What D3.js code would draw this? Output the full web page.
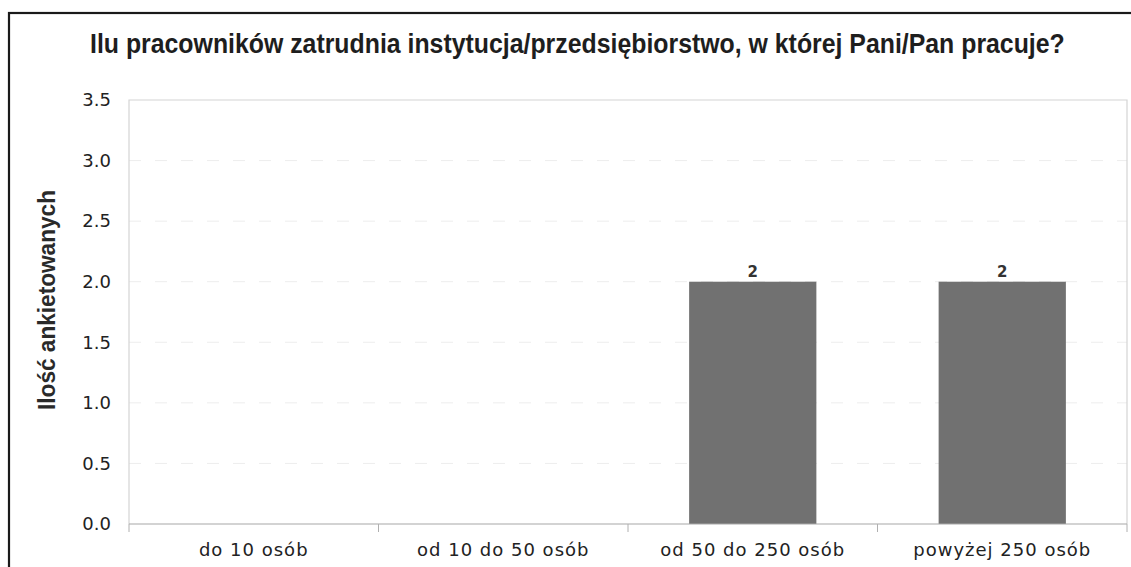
<!DOCTYPE html>
<html>
<head>
<meta charset="utf-8">
<script src="https://cdn.jsdelivr.net/npm/d3@7"></script>
<style>
  html, body { margin: 0; padding: 0; background: #fff; }
  svg { display: block; }
  .tick-label { font-family: "DejaVu Sans", sans-serif; font-size: 18px; fill: #222; }
</style>
</head>
<body>
<div id="chart"></div>
<script>
// data
var categories = ["do 10 osób", "od 10 do 50 osób", "od 50 do 250 osób", "powyżej 250 osób"];
var counts = [0, 0, 2, 2];
var yTicks = [0, 0.5, 1, 1.5, 2, 2.5, 3, 3.5];
var chartTitle = "Ilu pracowników zatrudnia instytucja/przedsiębiorstwo, w której Pani/Pan pracuje?";
var yTitle = "Ilość ankietowanych";

var W = 1131, H = 567;
var margin = {top: 100, right: 4, bottom: 43, left: 129};
var width = W - margin.left - margin.right;
var height = H - margin.top - margin.bottom;

var rows = categories.map(function(c, i) { return {cat: c, val: counts[i]}; });

var svg = d3.select("#chart").append("svg")
    .attr("width", W)
    .attr("height", H);

// outer frame (runs off the right and bottom of the picture)
svg.append("rect")
    .attr("x", 9).attr("y", 13)
    .attr("width", W + 20).attr("height", H + 20)
    .attr("fill", "none")
    .attr("stroke", "#1a1a1a")
    .attr("stroke-width", 2.2);

// title: narrow, tall lettering -> fit natural width, then stretch vertically
var title = svg.append("text")
    .attr("x", 0).attr("y", 0)
    .style("font-family", "'Liberation Sans', Arial, sans-serif")
    .style("font-weight", "bold")
    .style("font-size", "22px")
    .style("fill", "#1e1e1e")
    .text(chartTitle);
var tLen = title.node().getComputedTextLength();
title.attr("transform", "translate(90,53) scale(" + (975 / tLen) + ",1.22)");

var g = svg.append("g")
    .attr("transform", "translate(" + margin.left + "," + margin.top + ")");

var x = d3.scaleBand()
    .domain(categories)
    .range([0, width])
    .paddingInner(0.49)
    .paddingOuter(0.245);

var y = d3.scaleLinear()
    .domain([0, 3.5])
    .range([height, 0]);

// gridlines, barely visible in the scan
g.selectAll(".grid")
    .data(yTicks.filter(function(d) { return d > 0 && d < 3.5; }))
    .enter().append("line")
    .attr("class", "grid")
    .attr("x1", 0).attr("x2", width)
    .attr("y1", function(d) { return y(d); })
    .attr("y2", function(d) { return y(d); })
    .attr("stroke", "#ededed")
    .attr("stroke-width", 1)
    .attr("stroke-dasharray", "12,14");

// plot area border (top, right, left)
g.append("path")
    .attr("d", "M0," + height + "V0H" + width + "V" + height)
    .attr("fill", "none")
    .attr("stroke", "#d4d4d4")
    .attr("stroke-width", 1.2);

// bars
g.selectAll(".bar")
    .data(rows)
    .enter().append("rect")
    .attr("class", "bar")
    .attr("x", function(d) { return x(d.cat); })
    .attr("y", function(d) { return y(d.val); })
    .attr("width", x.bandwidth())
    .attr("height", function(d) { return height - y(d.val); })
    .attr("fill", "#717171");

// value labels
g.selectAll(".val")
    .data(rows.filter(function(d) { return d.val > 0; }))
    .enter().append("text")
    .attr("class", "val")
    .attr("x", function(d) { return x(d.cat) + x.bandwidth() / 2; })
    .attr("y", function(d) { return y(d.val) - 5; })
    .attr("text-anchor", "middle")
    .style("font-family", "'DejaVu Sans', sans-serif")
    .style("font-size", "15px")
    .style("font-weight", "bold")
    .style("fill", "#333")
    .text(function(d) { return d.val; });

// x axis
var step = x.step();
var xAxis = g.append("g")
    .attr("transform", "translate(0," + height + ")");
xAxis.append("line")
    .attr("x1", 0).attr("x2", width)
    .attr("stroke", "#a8a8a8").attr("stroke-width", 1.2);
xAxis.selectAll(".xt")
    .data(d3.range(categories.length + 1))
    .enter().append("line")
    .attr("x1", function(i) { return Math.min(i * step, width); })
    .attr("x2", function(i) { return Math.min(i * step, width); })
    .attr("y1", 0).attr("y2", 8)
    .attr("stroke", "#b0b0b0");
xAxis.selectAll(".xl")
    .data(categories)
    .enter().append("text")
    .attr("class", "tick-label")
    .attr("x", function(d) { return x(d) + x.bandwidth() / 2; })
    .attr("y", 32)
    .attr("text-anchor", "middle")
    .style("letter-spacing", "1px")
    .text(function(d) { return d; });

// y axis labels
var yAxis = d3.axisLeft(y)
    .tickValues(yTicks)
    .tickFormat(d3.format(".1f"))
    .tickSize(0)
    .tickPadding(18);
var ya = g.append("g").call(yAxis);
ya.select(".domain").remove();
ya.selectAll("text")
    .attr("class", "tick-label")
    .attr("font-family", null)
    .attr("font-size", null);

// y axis title
svg.append("text")
    .attr("transform", "translate(55,300) rotate(-90)")
    .attr("text-anchor", "middle")
    .attr("textLength", 220)
    .attr("lengthAdjust", "spacingAndGlyphs")
    .style("font-family", "'Liberation Sans', Arial, sans-serif")
    .style("font-weight", "bold")
    .style("font-size", "24px")
    .style("fill", "#2a2a2a")
    .text(yTitle);
</script>
</body>
</html>
